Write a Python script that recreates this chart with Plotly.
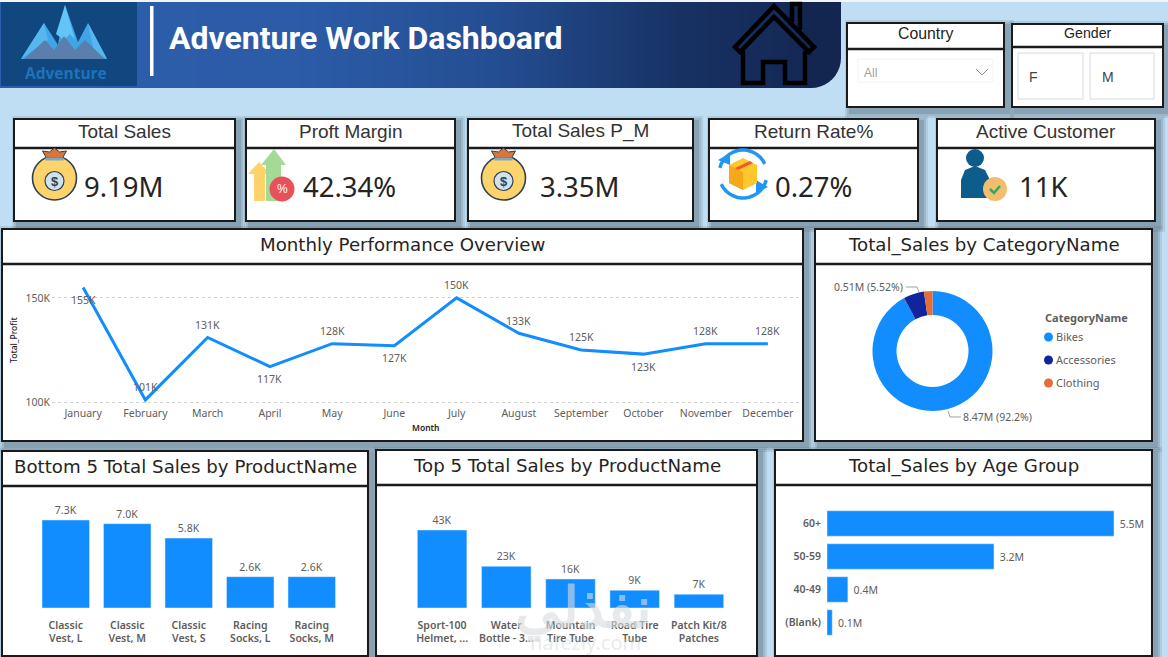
import math
import plotly.graph_objects as go

# ---------- data ----------
months = ["January","February","March","April","May","June","July","August","September","October","November","December"]
profit = [155000,101000,131000,117000,128000,127000,150000,133000,125000,123000,128000,128000]
profit_text = ["155K","101K","131K","117K","128K","127K","150K","133K","125K","123K","128K","128K"]
profit_below = [True,False,False,True,False,True,False,False,False,True,False,False]
profit_ticks = [100000,150000]
profit_ticktext = ["100K","150K"]

cat_names = ["Bikes","Accessories","Clothing"]
cat_values = [8.47,0.51,0.21]

bottom_names = ["Classic<br>Vest, L","Classic<br>Vest, M","Classic<br>Vest, S","Racing<br>Socks, L","Racing<br>Socks, M"]
bottom_values = [7300,7000,5800,2600,2600]
bottom_text = ["7.3K","7.0K","5.8K","2.6K","2.6K"]

top_names = ["Sport-100<br>Helmet, ...","Water<br>Bottle - 3...","Mountain<br>Tire Tube","Road Tire<br>Tube","Patch Kit/8<br>Patches"]
top_values = [43000,23000,16000,9800,7600]
top_text = ["43K","23K","16K","9K","7K"]

age_names = ["60+","50-59","40-49","(Blank)"]
age_values = [5.5,3.2,0.4,0.1]
age_text = ["5.5M","3.2M","0.4M","0.1M"]

kpi_titles = ["Total Sales","Proft Margin","Total Sales P_M","Return Rate%","Active Customer"]
kpi_values = ["9.19M","42.34%","3.35M","0.27%","11K"]

# ---------- helpers ----------
W, H = 1168, 657
BLUE = "#118DFF"; NAVY = "#12239E"; ORANGE = "#E66C37"; GREY = "#605E5C"
UI = "Noto Sans"; ARIAL = "Liberation Sans"; HAND = "DejaVu Sans"
fx = lambda x: x / W
fy = lambda y: 1 - y / H
shapes, anns = [], []

def rect(x0, y0, x1, y1, fill=None, line=None, lw=0, layer="below"):
    shapes.append(dict(type="rect", xref="paper", yref="paper", x0=fx(x0), x1=fx(x1), y0=fy(y0), y1=fy(y1),
                       fillcolor=fill or "rgba(0,0,0,0)", line=dict(color=line or "rgba(0,0,0,0)", width=lw), layer=layer))

def circ(cx, cy, r, fill=None, line=None, lw=0, layer="above"):
    shapes.append(dict(type="circle", xref="paper", yref="paper", x0=fx(cx-r), x1=fx(cx+r), y0=fy(cy+r), y1=fy(cy-r),
                       fillcolor=fill or "rgba(0,0,0,0)", line=dict(color=line or "rgba(0,0,0,0)", width=lw), layer=layer))

def poly(pts, fill=None, line=None, lw=0, close=True, layer="above"):
    d = "M " + " L ".join(f"{fx(x):.5f} {fy(y):.5f}" for x, y in pts) + (" Z" if close else "")
    shapes.append(dict(type="path", xref="paper", yref="paper", path=d,
                       fillcolor=fill or "rgba(0,0,0,0)", line=dict(color=line or "rgba(0,0,0,0)", width=lw), layer=layer))

def arc(cx, cy, r, a0, a1, n=14):
    return [(cx + r*math.cos(math.radians(a0+(a1-a0)*i/n)), cy + r*math.sin(math.radians(a0+(a1-a0)*i/n))) for i in range(n+1)]

def text(x, y, s, size, color="#252423", family=UI, anchor="center", weight=None, angle=0):
    anns.append(dict(xref="paper", yref="paper", x=fx(x), y=fy(y), text=s, showarrow=False, xanchor=anchor, yanchor="middle",
                     textangle=angle, font=dict(size=size, color=color, family=family, weight=weight), borderpad=0))

def panel(x0, y0, x1, y1, sep, title=None, size=18, family=HAND, tc="#252423", cx=None, lw=2, dy=-2):
    for g, a in ((7, .13), (5, .16), (3, .20)):
        rect(x0-g+5, y0-g+4, x1+g+3, y1+g+4, fill=f"rgba(60,80,95,{a})")
    rect(x0, y0, x1, y1, fill="white", line="#1a1a1a", lw=lw)
    if sep:
        poly([(x0, sep), (x1, sep)], line="#1a1a1a", lw=lw+.5, close=False, layer="below")
    if title:
        text(cx if cx else (x0+x1)/2, (y0+sep)/2 + dy, title, size, tc, family)

# background
rect(0, 0, W, H, fill="#BFDEF3")
rect(0, 0, W, 2, fill="#F2F5F7")

# header gradient
stops = [(0, (45,95,172)), (300, (44,92,168)), (500, (36,78,146)), (680, (24,50,100)), (842, (19,38,80))]
def grad(x):
    for (a, ca), (b, cb) in zip(stops, stops[1:]):
        if a <= x <= b:
            t = (x-a)/(b-a)
            return "rgb(%d,%d,%d)" % tuple(ca[i]+(cb[i]-ca[i])*t for i in range(3))
    return "rgb(19,38,80)"
for xs in range(0, 806, 6):
    rect(xs, 2, xs+6.6, 88, fill=grad(xs+3))
poly([(805,2),(841,2),(841,58)] + arc(811,58,30,0,90,10) + [(805,88)], fill="rgb(19,38,80)", layer="below")
rect(1, 2, 137, 86, fill="#10477F")
rect(150, 6, 153.5, 76, fill="white")
text(168, 38, "Adventure Work Dashboard", 32, "white", "Roboto", "left", 700)

# logo mountains
poly([(21,59),(44,23),(58,45),(65,5),(78,42),(88,23),(107,59)], fill="#3FA4E8")
poly([(65,5),(75,40),(70,34),(64,40),(56,34)], fill="#63C4F5")
poly([(21,59),(44,23),(48,40)], fill="#58B6EE")
poly([(88,23),(107,59),(94,52)], fill="#58B6EE")
poly([(24,59),(45,40),(54,50),(64,36),(75,50),(85,40),(105,59)], fill="#5B7FAC")
text(66, 73, "Adventure", 15.5, "#1F73B8", "Open Sans", weight=700)

# house
hk = dict(line="black", lw=4.5)
poly([(792,22),(792,4),(800,4),(800,30)], close=False, **hk)
poly([(735,47),(774,6),(814,47),(809,52),(774,17),(740,52),(735,47)], **hk)
poly([(743,51),(743,83),(763,83),(763,62),(785,62),(785,83),(805,83),(805,51)], close=False, **hk)

# slicers
panel(847, 23, 1004, 107, 49, "Country", 15.8, ARIAL, dy=-3)
rect(858, 59, 993, 82, line="#F2F2F2", lw=1, layer="above")
text(863, 73, "All", 12, "#A0A0A0", ARIAL, "left")
poly([(976,69),(982,75),(988,69)], line="#8a8a8a", lw=1, close=False)
panel(1012, 24, 1163, 107, 47, "Gender", 14.2, ARIAL)
rect(1018, 53, 1083, 99, line="#DADADA", lw=1, layer="above")
rect(1090, 53, 1154, 99, line="#DADADA", lw=1, layer="above")
text(1033, 77, "F", 14, "#444444", ARIAL)
text(1108, 77, "M", 14, "#444444", ARIAL)

# KPI cards
kpi_box = [(14,235),(246,455),(468,693),(709,918),(937,1155)]
kpi_x = [124, 349, 580, 813, 1043.5]
for (x0, x1), t, v, vx in zip(kpi_box, kpi_titles, kpi_values, kpi_x):
    panel(x0, 119, x1, 221, 148, t, 19, ARIAL, tc="#333333")
    text(vx, 187, v, 27.5, "#252423", UI)

def bag(cx):
    O = "#2E4053"
    circ(cx, 178, 22, fill="#FFD36B", line=O, lw=1.6)
    poly([(cx-8,158),(cx-12,151),(cx-5,152),(cx,148),(cx+5,152),(cx+12,151),(cx+8,158)], fill="#D9773A", line=O, lw=1)
    poly([(cx-9,159),(cx+9,159)], line="#7FA7C9", lw=3, close=False)
    circ(cx, 181, 9.5, fill="#CFE3EE", line=O, lw=1.2)
    text(cx, 181, "$", 13, O, ARIAL, weight=700)
bag(54.5); bag(503.5)

# growth icon
poly([(248,174),(259,162),(270,174),(265,174),(265,201),(254,201),(254,174)], fill="#FFD36B")
poly([(261,165),(274,149),(286,165),(281,165),(281,201),(266,201),(266,165)], fill="#A4DB94")
circ(282, 189, 12.5, fill="#E8505B")
text(282, 189, "%", 12, "white", ARIAL)

# return icon
poly(arc(743,174,24,-165,-25), line="#2196F3", lw=3.5, close=False)
poly(arc(743,174,24,15,155), line="#2196F3", lw=3.5, close=False)
poly([(718,160),(730,153),(730,165)], fill="#2196F3")
poly([(768,187),(756,180),(756,193)], fill="#2196F3")
poly([(743,158),(757,165),(757,183),(743,190),(729,183),(729,165)], fill="#FFC72C")
poly([(729,165),(743,172),(743,190),(729,183)], fill="#F5A81C")
poly([(735,168),(750,161),(753,163),(738,170)], fill="#F0592A")

# customer icon
circ(975, 158, 9, fill="#0C5C8C")
poly([(961,198),(961,180),(965,170),(975,166),(985,170),(990,180),(990,198)], fill="#0C5C8C")
circ(995, 189, 12, fill="#F4BC6E")
poly([(990,189),(994,193),(1000,186)], line="#27AE60", lw=2.5, close=False)

# chart panels
panel(2, 229, 803, 441, 264, "Monthly Performance Overview", 18.2)
panel(815, 229, 1152, 441, 264, "Total_Sales by CategoryName", 18.2)
panel(2, 451, 368, 656, 486, "Bottom 5 Total Sales by ProductName", 18.2)
panel(376, 450, 757, 656, 485, "Top 5 Total Sales by ProductName", 18.2)
panel(775, 450, 1152, 656, 485, "Total_Sales by Age Group", 18.2)

# axis titles
text(13, 340, "Total_Profit", 8.5, "#252423", UI, weight=500, angle=-90)
text(425, 427, "Month", 8.5, "#252423", UI, weight=600)

# pie annotations
text(868, 287, "0.51M (5.52%)", 10.5, GREY)
poly([(906,287),(917,287),(919,292)], line="#888888", lw=.8, close=False)
poly([(948,411),(950,417),(961,417)], line="#888888", lw=.8, close=False)
text(997.5, 417, "8.47M (92.2%)", 10.5, GREY)
text(1044, 317, "CategoryName", 11, GREY, UI, "left", 700)
for yy, nm, col in zip((337, 360, 383), cat_names, (BLUE, NAVY, ORANGE)):
    circ(1048.5, yy, 4.5, fill=col)
    text(1055, yy - 1, nm, 11, GREY, UI, "left")

# line data labels, anchored to the data
for m, v, t, below in zip(months, profit, profit_text, profit_below):
    anns.append(dict(xref="x", yref="y", x=m, y=v, text=t, showarrow=False, yanchor="middle",
                     yshift=-12.5 if below else 12.5, font=dict(size=10.5, color=GREY, family=UI)))

# watermark
text(583, 605, "نفذلي", 56, "rgba(215,220,225,0.6)", "Noto Sans", weight=700)
text(585, 642, "nafezly.com", 20, "rgba(205,210,215,0.45)", "Noto Sans")

# ---------- traces ----------
tf = dict(size=10.5, color=GREY, family=UI)
btf = dict(size=10.5, color=GREY, family=UI, weight=600)

fig = go.Figure()
fig.add_trace(go.Scatter(x=months, y=profit, mode="lines", line=dict(color=BLUE, width=3), xaxis="x", yaxis="y", showlegend=False))
fig.add_trace(go.Pie(labels=cat_names, values=cat_values, hole=0.6, sort=False, direction="clockwise", rotation=0,
                     marker=dict(colors=[BLUE, NAVY, ORANGE]), textinfo="none", showlegend=False,
                     domain=dict(x=[fx(872.5), fx(992.5)], y=[fy(411), fy(291)])))
fig.add_trace(go.Bar(x=bottom_names, y=bottom_values, text=bottom_text, textposition="outside", textfont=tf, cliponaxis=False,
                     marker_color=BLUE, xaxis="x2", yaxis="y2", showlegend=False))
fig.add_trace(go.Bar(x=top_names, y=top_values, text=top_text, textposition="outside", textfont=tf, cliponaxis=False,
                     marker_color=BLUE, xaxis="x3", yaxis="y3", showlegend=False))
fig.add_trace(go.Bar(x=age_values, y=age_names, orientation="h", text=["\u00a0" + t for t in age_text], textposition="outside",
                     textfont=tf, cliponaxis=False, marker_color=BLUE, xaxis="x4", yaxis="y4", showlegend=False))

off = dict(showgrid=False, zeroline=False, showline=False, ticks="", automargin=False)
fig.update_layout(
    width=W, height=H, margin=dict(l=0, r=0, t=0, b=0, autoexpand=False), paper_bgcolor="white", plot_bgcolor="rgba(0,0,0,0)",
    shapes=shapes, annotations=anns, bargap=0.228,
    xaxis=dict(domain=[fx(52), fx(799)], range=[-0.5, 11.5], tickfont=tf, anchor="y", **off),
    yaxis=dict(domain=[fy(405), fy(275)], range=[98560, 161000], tickvals=profit_ticks, ticktext=profit_ticktext, tickfont=tf,
               anchor="x", showgrid=True, griddash="dot", gridcolor="#D2D2D2", gridwidth=1, zeroline=False, showline=False,
               ticklabelstandoff=1, automargin=False),
    xaxis2=dict(domain=[fx(35), fx(342.5)], range=[-0.5, 4.5], tickfont=btf, anchor="y2", ticklabelstandoff=9, **off),
    yaxis2=dict(domain=[fy(608), fy(490)], range=[0, 9790], visible=False, anchor="x2", automargin=False),
    xaxis3=dict(domain=[fx(410), fx(731)], range=[-0.5, 4.5], tickfont=btf, anchor="y3", ticklabelstandoff=9, **off),
    yaxis3=dict(domain=[fy(608), fy(490)], range=[0, 65050], visible=False, anchor="x3", automargin=False),
    xaxis4=dict(domain=[fx(827), fx(1150)], range=[0, 6.19], visible=False, anchor="y4", automargin=False),
    yaxis4=dict(domain=[fy(639), fy(507)], range=[3.5, -0.5], tickfont=btf, anchor="x4", ticklabelstandoff=5, **off),
)
css = ("document.documentElement.style.cssText='margin:0;padding:0;height:657px;overflow:hidden';"
       "document.body.style.cssText='margin:0;padding:0;height:657px;overflow:hidden;font-size:0;line-height:0';"
       "document.querySelectorAll('.svg-container').forEach(function(e){e.style.display='block';});")
fig.write_html("out.html", config=dict(displayModeBar=False, responsive=False), post_script=css)
